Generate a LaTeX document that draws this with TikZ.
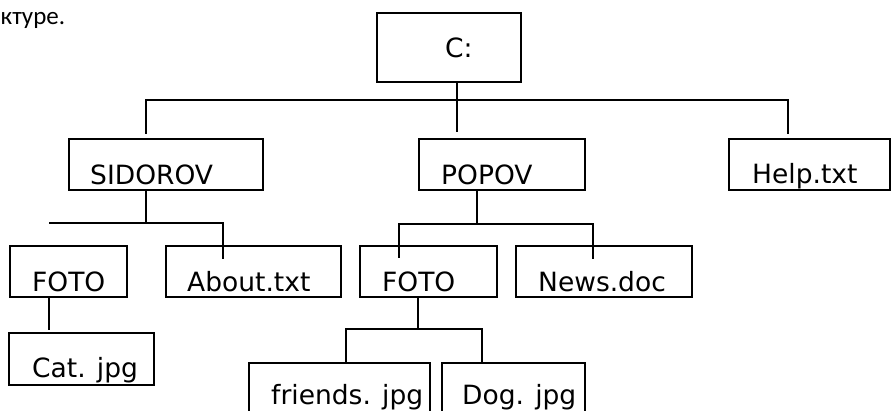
\documentclass[tikz,border=0pt]{standalone}
\usepackage{fontspec}
\setmainfont{DejaVu Sans}
\newfontfamily\calfont{Carlito}
\usetikzlibrary{calc}

\begin{document}
\begin{tikzpicture}[x=1pt, y=-1pt,
    box/.style={draw, line width=1.8pt, inner sep=0pt},
    lbl/.style={anchor=base west, inner sep=0pt, font=\fontsize{26.5}{30}\selectfont},
    conn/.style={line width=1.8pt}]
  \clip (0,0) rectangle (893,411);
  \fill[white] (0,0) rectangle (893,411);
  \node[anchor=base west, inner sep=0pt, font=\calfont\fontsize{25}{28}\selectfont] (caption) at (0.5,25) {ктуре.};

  % folders and files
  \node[box, minimum width=144, minimum height=69] (c) at (449,47.5) {};
  \node[box, minimum width=194, minimum height=51] (sidorov) at (166,164.5) {};
  \node[box, minimum width=166, minimum height=51] (popov) at (502,164.5) {};
  \node[box, minimum width=161, minimum height=51] (help) at (809.5,164.5) {};
  \node[box, minimum width=117, minimum height=51] (foto1) at (68.5,271.5) {};
  \node[box, minimum width=175, minimum height=51] (about) at (253.5,271.5) {};
  \node[box, minimum width=137, minimum height=51] (foto2) at (428.5,271.5) {};
  \node[box, minimum width=176, minimum height=51] (news) at (604,271.5) {};
  \node[box, minimum width=145, minimum height=52] (cat) at (81.5,359) {};
  \node[box, minimum width=181, minimum height=54] (friends) at (339.5,390) {};
  \node[box, minimum width=143, minimum height=54] (dog) at (513.5,390) {};

  % names
  \node[lbl] (ctxt) at (445,58) {C:};
  \node[lbl] (sidorovtxt) at (90,185) {SIDOROV};
  \node[lbl] (popovtxt) at (441,185) {POPOV};
  \node[lbl] (helptxt) at (752,184) {Help.txt};
  \node[lbl] (foto1txt) at (32,291) {FOTO};
  \node[lbl] (abouttxt) at (187,291) {About.txt};
  \node[lbl] (foto2txt) at (382,291) {FOTO};
  \node[lbl] (newstxt) at (538,291) {News.doc};
  \node[lbl] (cattxt) at (32,377) {Cat. jpg};
  \node[lbl] (friendstxt) at (271,404) {friends. jpg};
  \node[lbl] (dogtxt) at (462,404) {Dog. jpg};

  % branches
  \coordinate (rootfork) at (457,100);
  \coordinate (popovend) at (457,132);
  \coordinate (sidorovend) at (146,134);
  \coordinate (helpend) at (788,134);
  \draw[conn] (c.south -| rootfork) -- (popovend);
  \draw[conn] (sidorovend) -- (sidorovend |- rootfork) -- (helpend |- rootfork) -- (helpend);

  \coordinate (sidfork) at (146,223);
  \coordinate (sidleft) at (49,223);
  \coordinate (aboutend) at (223,259);
  \coordinate (catend) at (49,330);
  \draw[conn] (sidorov.south -| sidfork) -- (sidfork);
  \draw[conn] (sidleft) -- (aboutend |- sidfork) -- (aboutend);
  \draw[conn] (foto1.south -| catend) -- (catend);

  \coordinate (popfork) at (477,224);
  \coordinate (foto2end) at (399,258);
  \coordinate (newsend) at (593,259);
  \draw[conn] (popov.south -| popfork) -- (popfork);
  \draw[conn] (foto2end) -- (foto2end |- popfork) -- (newsend |- popfork) -- (newsend);

  \coordinate (fotofork) at (418,329);
  \coordinate (friendsin) at (346,363);
  \coordinate (dogin) at (482,363);
  \draw[conn] (foto2.south -| fotofork) -- (fotofork);
  \draw[conn] (friends.north -| friendsin) -- (friendsin |- fotofork) -- (dogin |- fotofork) -- (dog.north -| dogin);
\end{tikzpicture}
\end{document}
